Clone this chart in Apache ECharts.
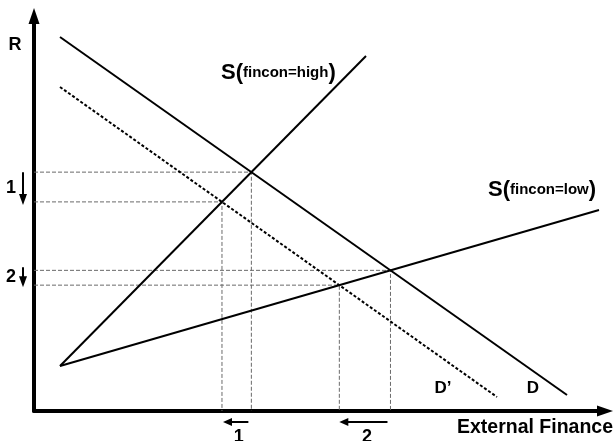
<!DOCTYPE html>
<html><head><meta charset="utf-8">
<script src="https://cdn.jsdelivr.net/npm/echarts@6/dist/echarts.min.js"></script>
<style>html,body{margin:0;padding:0;background:#fff}#c{width:616px;height:441px}</style>
</head><body><div id="c"></div>
<script>
// Axis extents (arbitrary units, no ticks shown)
const xMax = 57.1, yMax = 39.5;
// Curves: two end points each
const demandD = [[2.6, 37.4], [53.3, 1.6]];
const demandDPrime = [[2.6, 32.4], [46.3, 1.4]];
const supplyHigh = [[2.6, 4.5], [33.2, 35.5]];
const supplyLow = [[2.6, 4.5], [56.5, 20.1]];
// Text labels
const axisTitleY = 'R';
const axisTitleX = 'External Finance';
const labelD = 'D';
const labelDPrime = 'D\u2019';
const shiftLabels = ['1', '2'];

function intersect(a, b) {
  const [x1, y1] = a[0], [x2, y2] = a[1], [x3, y3] = b[0], [x4, y4] = b[1];
  const den = (x1 - x2) * (y3 - y4) - (y1 - y2) * (x3 - x4);
  const t = ((x1 - x3) * (y3 - y4) - (y1 - y3) * (x3 - x4)) / den;
  return [x1 + t * (x2 - x1), y1 + t * (y2 - y1)];
}
const e1 = intersect(demandD, supplyHigh);
const e1p = intersect(demandDPrime, supplyHigh);
const e2 = intersect(demandD, supplyLow);
const e2p = intersect(demandDPrime, supplyLow);

const FONT = '"Liberation Sans", Arial, sans-serif';
const chart = echarts.init(document.getElementById('c'), null, {renderer: 'canvas'});

function guide(p) {
  return {
    type: 'line', data: [[0, p[1]], [p[0], p[1]], [p[0], 0]], symbol: 'none', silent: true,
    lineStyle: {color: '#6a6a6a', width: 1, type: [4, 2]}, z: 1, clip: false
  };
}
function curve(d, dotted) {
  return {
    type: 'line', data: d, symbol: 'none', silent: true, clip: false,
    lineStyle: {color: '#000', width: 2, type: dotted ? [3, 2] : 'solid'}, z: 3
  };
}
const axisCommon = {
  type: 'value', min: 0,
  axisLine: {show: true, symbol: ['none', 'triangle'], symbolSize: [11, 16], lineStyle: {color: '#000', width: 4}},
  axisTick: {show: false}, axisLabel: {show: false}, splitLine: {show: false}
};
chart.setOption({
  animation: false,
  backgroundColor: '#fff',
  grid: {left: 34, right: 11, top: 16, bottom: 30},
  xAxis: Object.assign({}, axisCommon, {max: xMax}),
  yAxis: Object.assign({}, axisCommon, {max: yMax}),
  series: [
    guide(e1), guide(e1p), guide(e2), guide(e2p),
    curve(demandD, false), curve(demandDPrime, true), curve(supplyHigh, false), curve(supplyLow, false)
  ]
});

function px(p) { return chart.convertToPixel({gridIndex: 0}, p); }
function txt(text, x, y, size, align, valign) {
  return {type: 'text', x: x, y: y, z: 10, style: {text: text, font: 'bold ' + size + 'px ' + FONT, fill: '#000',
    textAlign: align || 'center', textVerticalAlign: valign || 'middle', align: align || 'center', verticalAlign: valign || 'middle'}};
}
function richS(sub, x, y) {
  return {type: 'text', x: x, y: y, z: 10, style: {
    text: '{b|S(}{s|' + sub + '}{b|)}', fill: '#000', textVerticalAlign: 'middle', verticalAlign: 'middle',
    textAlign: 'left', align: 'left',
    rich: {b: {font: 'bold 22px ' + FONT, fill: '#000'}, s: {font: 'bold 15px ' + FONT, fill: '#000'}}
  }};
}
function arrowDown(x, y0, y1) {
  return [
    {type: 'line', z: 10, shape: {x1: x, y1: y0, x2: x, y2: y1 - 9}, style: {stroke: '#000', lineWidth: 2}},
    {type: 'polygon', z: 10, shape: {points: [[x - 4, y1 - 11], [x + 4, y1 - 11], [x, y1]]}, style: {fill: '#000'}}
  ];
}
function arrowLeft(y, x0, x1) {
  return [
    {type: 'line', z: 10, shape: {x1: x0, y1: y, x2: x1 + 7, y2: y}, style: {stroke: '#000', lineWidth: 2}},
    {type: 'polygon', z: 10, shape: {points: [[x1 + 9, y - 4], [x1 + 9, y + 4], [x1, y]]}, style: {fill: '#000'}}
  ];
}
const P1 = px(e1), P1p = px(e1p), P2 = px(e2), P2p = px(e2p);
const dEnd = px(demandD[1]), dpEnd = px(demandDPrime[1]);
const shEnd = px(supplyHigh[1]), slEnd = px(supplyLow[1]);
const ax = 23, ay = 422;
const elements = [].concat(
  [txt(axisTitleY, 15, 45, 18)],
  [txt(axisTitleX, 613, 428, 19.5, 'right')],
  [txt(shiftLabels[0], 11, 188, 18), txt(shiftLabels[1], 11, 277, 18)],
  arrowDown(ax, P1[1], P1p[1] + 3),
  arrowDown(ax, P2[1] - 3, P2p[1] + 2),
  arrowLeft(ay, P1[0] - 3, P1p[0] + 1),
  arrowLeft(ay, P2[0] - 3, P2p[0]),
  [txt(shiftLabels[0], (P1[0] + P1p[0]) / 2 + 2, 437, 18), txt(shiftLabels[1], (P2[0] + P2p[0]) / 2 + 2, 437, 18)],
  [txt(labelDPrime, dpEnd[0] - 54, dpEnd[1] - 9, 17), txt(labelD, dEnd[0] - 34, dEnd[1] - 7, 17)],
  [richS('fincon=high', shEnd[0] - 145, shEnd[1] + 17), richS('fincon=low', slEnd[0] - 111, slEnd[1] - 20)]
);
chart.setOption({graphic: {elements: elements}});
</script>
</body></html>
